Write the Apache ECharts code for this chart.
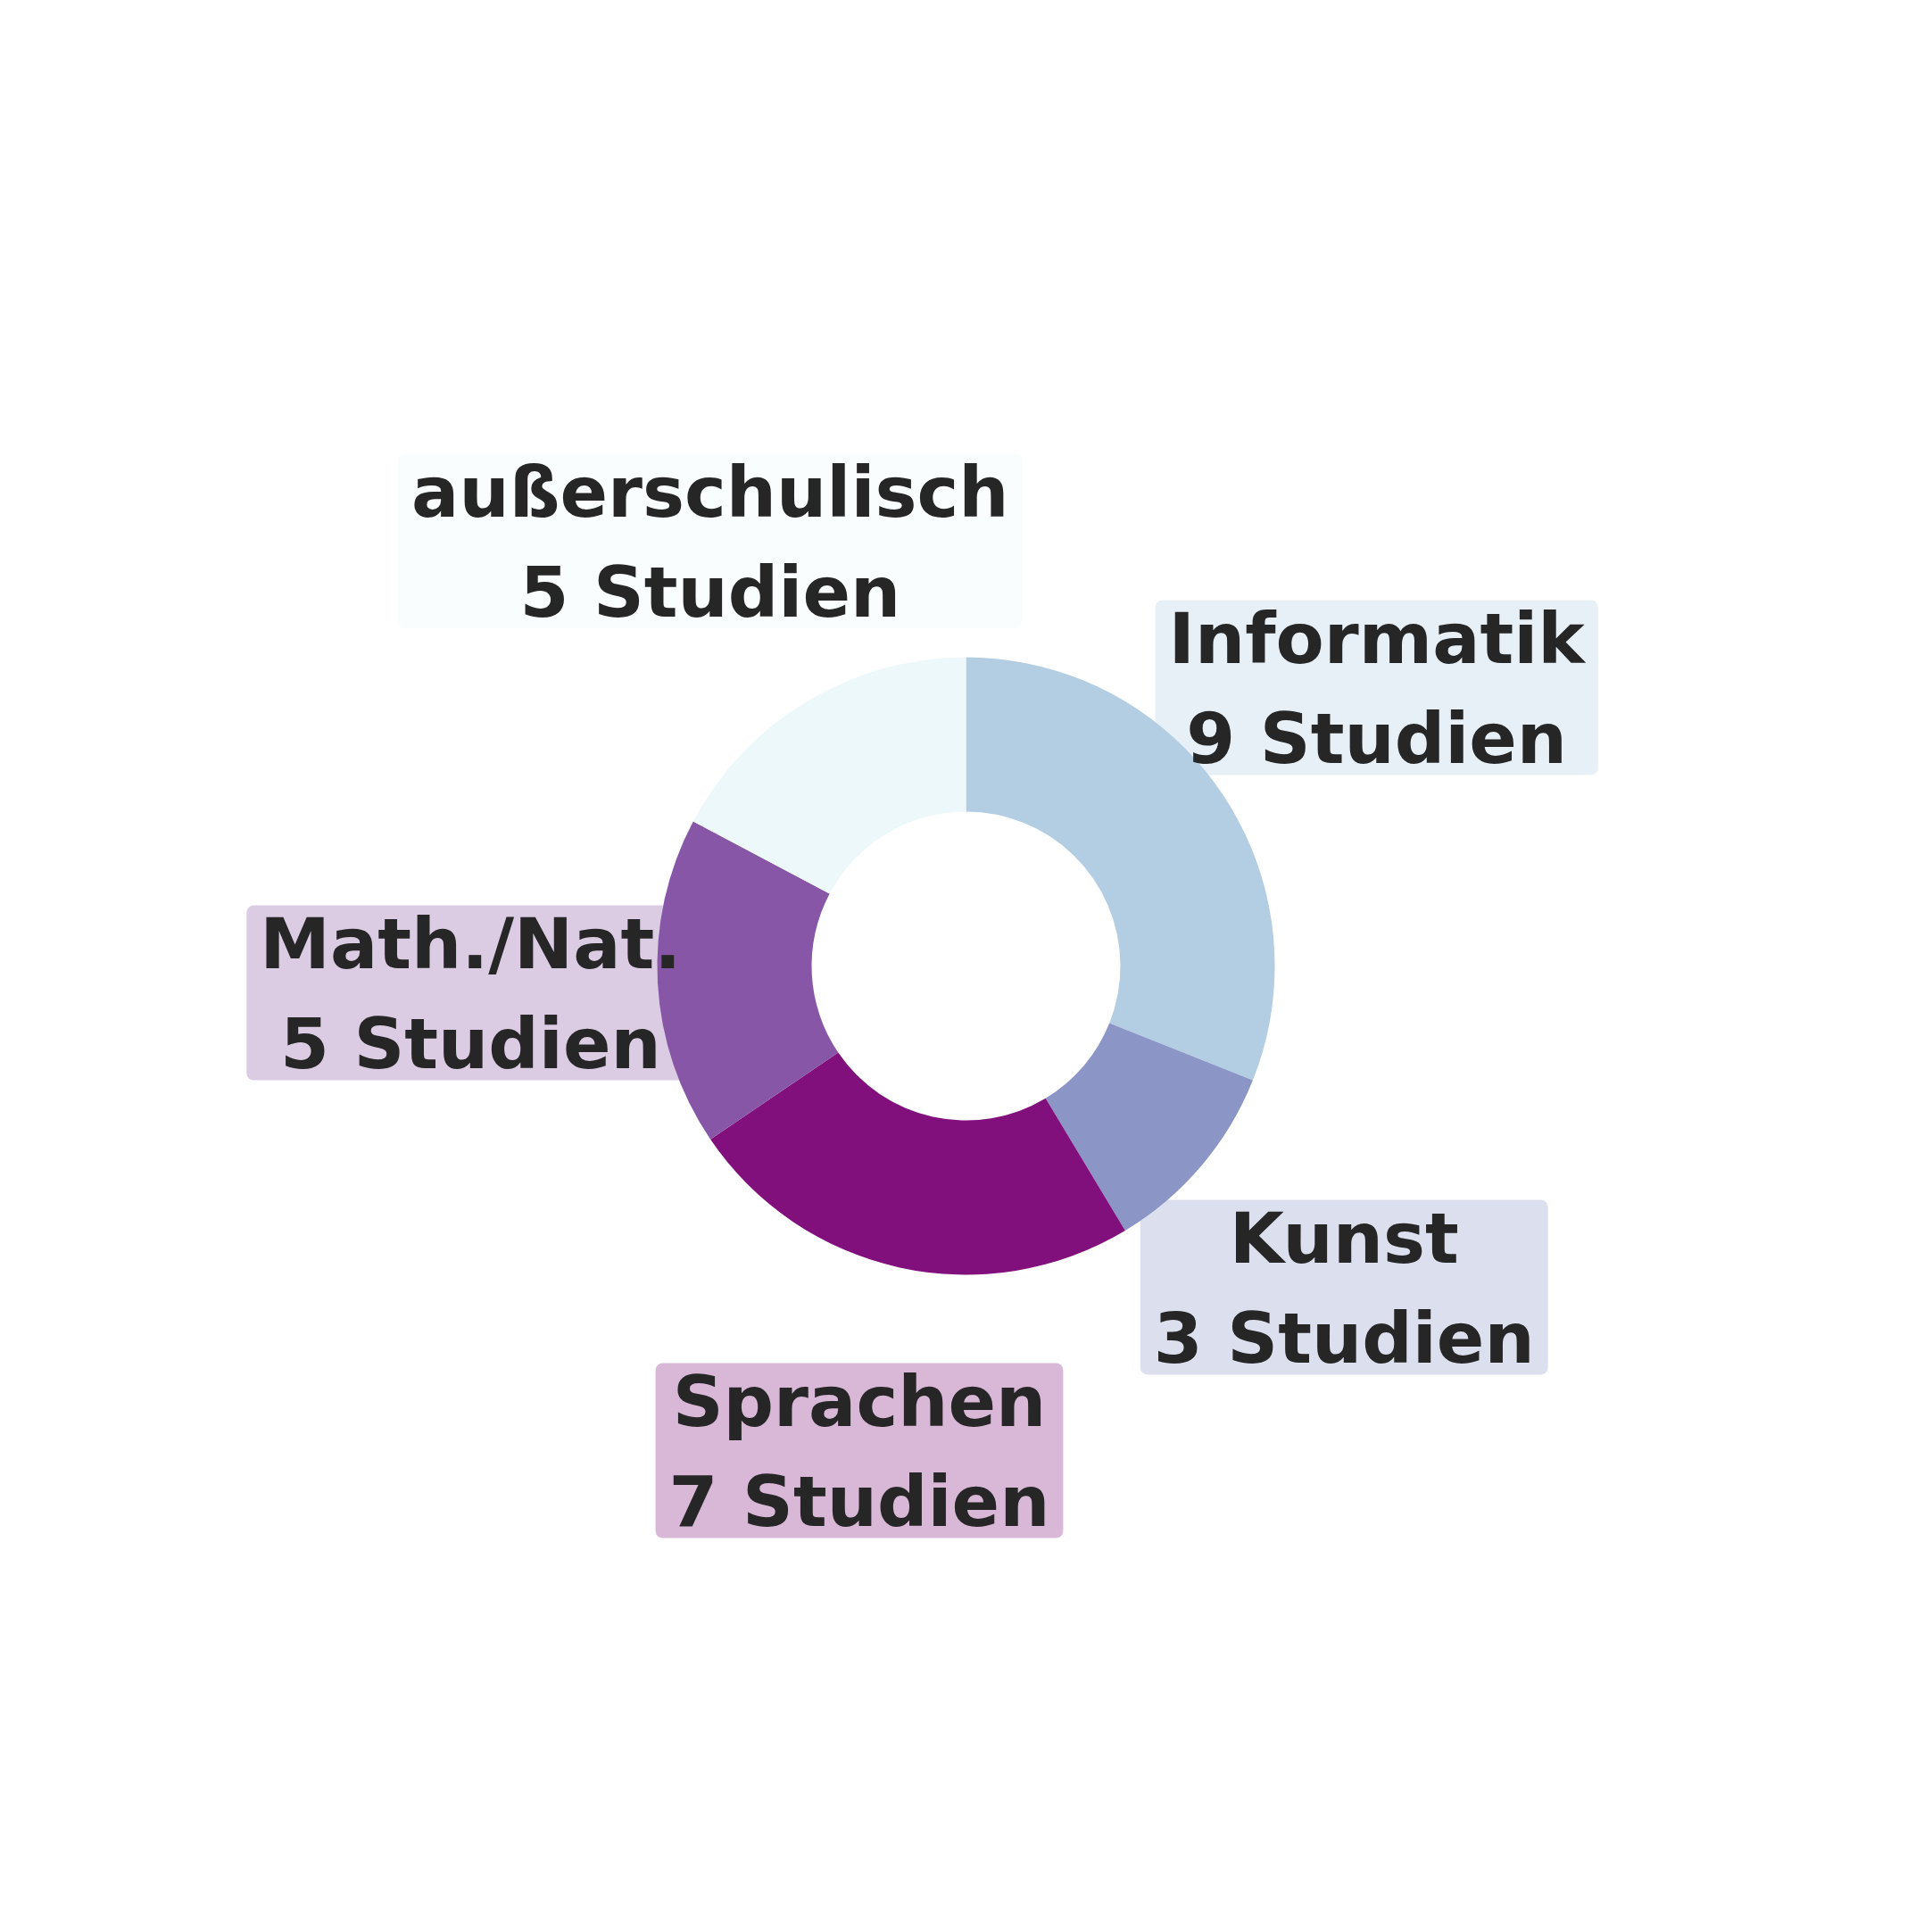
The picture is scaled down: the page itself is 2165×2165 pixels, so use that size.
<!DOCTYPE html>
<html>
<head>
<meta charset="utf-8">
<script src="https://cdn.jsdelivr.net/npm/echarts@6/dist/echarts.min.js"></script>
<style>
html,body{margin:0;padding:0;background:#fff;}
#chart{width:2165px;height:2165px;}
</style>
</head>
<body>
<div id="chart"></div>
<script>
const categories = ['Informatik', 'Kunst', 'Sprachen', 'Math./Nat.', 'außerschulisch'];
const studies = [9, 3, 7, 5, 5];
const sliceColors = ['#b3cde3', '#8c96c6', '#810f7c', '#8856a7', '#edf8fb'];
const unitLabel = 'Studien';

function withAlpha(hex, a) {
  const n = parseInt(hex.slice(1), 16);
  return 'rgba(' + ((n >> 16) & 255) + ',' + ((n >> 8) & 255) + ',' + (n & 255) + ',' + a + ')';
}

const chart = echarts.init(document.getElementById('chart'), null, {renderer: 'canvas'});
chart.setOption({
  backgroundColor: '#ffffff',
  animation: false,
  series: [
    {
      type: 'pie',
      center: ['50%', '50%'],
      radius: [173, 346],
      startAngle: 90,
      clockwise: true,
      silent: true,
      label: {show: false},
      labelLine: {show: false},
      itemStyle: {borderWidth: 0},
      data: categories.map((c, i) => ({name: c, value: studies[i], itemStyle: {color: sliceColors[i]}}))
    },
    {
      type: 'pie',
      center: ['50%', '50%'],
      radius: [551, 555],
      startAngle: 90,
      clockwise: true,
      silent: true,
      itemStyle: {color: 'rgba(0,0,0,0)', borderWidth: 0},
      labelLine: {show: false},
      label: {
        show: true,
        position: 'inside',
        formatter: p => '{t|' + p.name + '}\n{t|' + p.value + ' ' + unitLabel + '}',
        rich: {
          t: {
            fontFamily: 'DejaVu Sans',
            fontWeight: 'bold',
            fontSize: 79,
            lineHeight: 112,
            color: '#262626',
            align: 'center'
          }
        },
        align: 'center',
        padding: [-6, 15, -22, 15],
        borderRadius: 8
      },
      data: categories.map((c, i) => ({
        name: c, value: studies[i],
        label: {backgroundColor: withAlpha(sliceColors[i], 0.3)}
      }))
    }
  ]
});
</script>
</body>
</html>
